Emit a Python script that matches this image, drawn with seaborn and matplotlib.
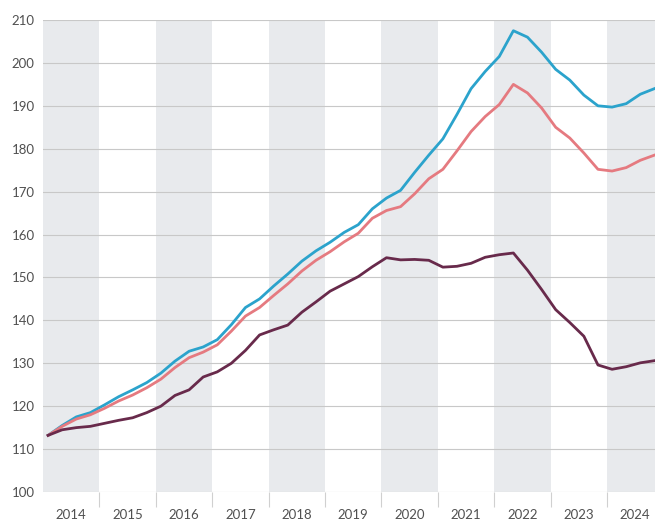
import numpy as np
import pandas as pd
import matplotlib
matplotlib.use("Agg")
import matplotlib.pyplot as plt
import seaborn as sns

years = list(range(2014, 2025))
quarters = [y + q / 4 for y in years for q in range(4)]

blue = [113.2, 115.5, 117.5, 118.5, 120.3, 122.2, 123.8, 125.5, 127.7, 130.5, 132.8, 133.8,
        135.5, 139.0, 143.0, 145.0, 148.0, 150.8, 153.8, 156.2, 158.2, 160.5, 162.3, 166.0,
        168.5, 170.3, 174.5, 178.5, 182.3, 188.0, 194.0, 198.0, 201.5, 207.5, 206.0, 202.5,
        198.5, 196.0, 192.5, 190.0, 189.7, 190.5, 192.7, 194.0]
pink = [113.2, 115.3, 117.0, 118.0, 119.5, 121.2, 122.6, 124.3, 126.3, 129.0, 131.3, 132.6,
        134.3, 137.5, 141.0, 143.0, 145.8, 148.5, 151.5, 154.0, 156.0, 158.3, 160.3, 163.8,
        165.6, 166.5, 169.5, 173.0, 175.2, 179.5, 184.0, 187.5, 190.3, 195.0, 193.0, 189.5,
        185.0, 182.5, 179.0, 175.2, 174.8, 175.6, 177.3, 178.5]
dark = [113.2, 114.5, 115.0, 115.3, 116.0, 116.7, 117.3, 118.5, 120.0, 122.5, 123.8, 126.8,
        128.0, 130.0, 133.0, 136.6, 137.8, 138.9, 141.9, 144.3, 146.8, 148.5, 150.2, 152.5,
        154.6, 154.1, 154.2, 154.0, 152.4, 152.6, 153.3, 154.7, 155.3, 155.7, 151.7, 147.2,
        142.5, 139.5, 136.3, 129.6, 128.6, 129.2, 130.1, 130.6]

series_names = ["A", "B", "C"]
colors = ["#2ba3cc", "#e57a80", "#682a4b"]
yticks = list(range(100, 211, 10))

x_offset = 0.09
df = pd.concat([
    pd.DataFrame({"t": np.array(quarters) + x_offset, "value": vals, "series": name})
    for name, vals in zip(series_names, [blue, pink, dark])
])

fig = plt.figure(figsize=(6.55, 5.27), dpi=100)
ax = fig.add_axes([43 / 655, 35 / 527, 1 - 43 / 655, (492 - 20) / 527])

# alternating year bands
for i, y in enumerate(years):
    if i % 2 == 0:
        ax.axvspan(y, y + 1, color="#e8eaed", lw=0, zorder=0)

for v in yticks:
    ax.axhline(v, color="#c8c8c8", lw=0.8, zorder=1)

sns.lineplot(data=df, x="t", y="value", hue="series", palette=dict(zip(series_names, colors)),
             linewidth=2.0, legend=False, ax=ax, zorder=3)

ax.set_xlim(2014, 2014 + (655 - 43) / 56.4)
ax.set_ylim(100, 210)
ax.set_yticks(yticks)
ax.set_yticklabels([str(v) for v in yticks])
ax.set_xticks([y + 0.5 for y in years])
ax.set_xticklabels([str(y) for y in years])
ax.set_xticks(list(range(2015, 2025)), minor=True)
ax.tick_params(axis="x", which="major", length=0, pad=12, labelsize=9.5, labelcolor="#505050")
ax.tick_params(axis="x", which="minor", length=11, width=0.8, color="#d0d0d0")
ax.tick_params(axis="y", length=0, pad=6, labelsize=9.5, labelcolor="#505050")
for lab in ax.get_xticklabels() + ax.get_yticklabels():
    lab.set_fontfamily("Lato")
ax.set_xlabel("")
ax.set_ylabel("")
for s in ax.spines.values():
    s.set_visible(False)
ax.set_facecolor("white")

fig.savefig("out.png", dpi=100)
